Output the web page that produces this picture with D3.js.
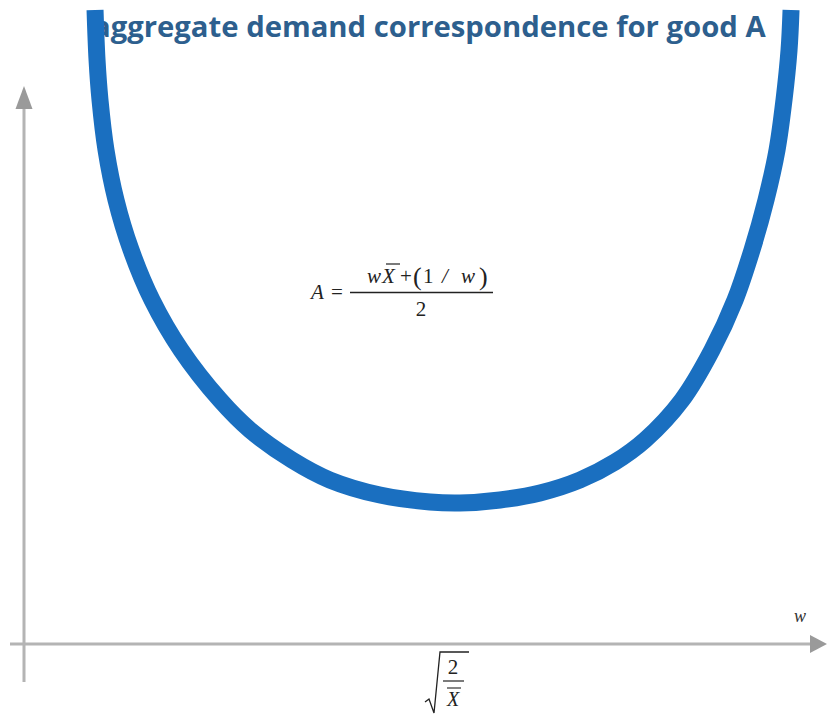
<!DOCTYPE html>
<html>
<head>
<meta charset="utf-8">
<script src="https://cdn.jsdelivr.net/npm/d3@7"></script>
<style>
  html, body { margin: 0; padding: 0; background: #fff; }
  svg { display: block; }
</style>
</head>
<body>
<svg id="chart" width="828" height="717"></svg>
<script>
// Aggregate demand correspondence for good A, sampled along the curve
const wValues = [0.888, 0.913, 0.950, 1.025, 1.150, 1.338, 1.600, 1.963, 2.450, 2.825, 3.350, 3.825,
                 4.450, 5.075, 5.450, 5.950, 6.450, 6.950, 7.388, 7.763, 8.225, 8.600, 8.888,
                 9.100, 9.275, 9.413, 9.500, 9.563, 9.588];
const aValues = [10.567, 9.733, 9.067, 8.233, 7.400, 6.567, 5.733, 4.900, 4.067, 3.567, 3.067, 2.733,
                 2.483, 2.367, 2.350, 2.400, 2.517, 2.733, 3.033, 3.400, 4.067, 4.900, 5.733,
                 6.567, 7.400, 8.233, 9.067, 9.900, 10.567];
const titleText = "aggregate demand correspondence for good A";
const xAxisLabel = "w";

const svg = d3.select("#chart");
const x = d3.scaleLinear().domain([0, 10]).range([24, 824]);
const y = d3.scaleLinear().domain([0, 10]).range([644, 44]);

const axisColor = "#b4b4b4";
const arrowColor = "#9a9a9a";

// axes with arrow heads
svg.append("line").attr("x1", 24).attr("x2", 24).attr("y1", 682).attr("y2", 100)
  .attr("stroke", axisColor).attr("stroke-width", 3);
svg.append("line").attr("x1", 10).attr("x2", 815).attr("y1", y(0)).attr("y2", y(0))
  .attr("stroke", axisColor).attr("stroke-width", 3);
svg.append("path").attr("d", "M24,86 L32.5,109 L15.5,109 Z").attr("fill", arrowColor);
svg.append("path").attr("d", `M827,${y(0)} L810,${y(0) - 9} L810,${y(0) + 9} Z`).attr("fill", arrowColor);

// title (sits under the curve)
const title = svg.append("text")
  .attr("x", 93).attr("y", 37)
  .attr("font-family", "'Open Sans', sans-serif")
  .attr("font-weight", "bold")
  .attr("font-size", 24)
  .attr("fill", "#2d5f8e")
  .text(titleText);
const tw = title.node().getComputedTextLength();
title.attr("font-size", 24 * 673 / tw);

// the curve
const pts = wValues.map((w, i) => [w, aValues[i]]);
const line = d3.line().x(d => x(d[0])).y(d => y(d[1])).curve(d3.curveCatmullRom.alpha(0.5));
svg.append("path").datum(pts).attr("d", line)
  .attr("fill", "none").attr("stroke", "#1a6fc0").attr("stroke-width", 17)
  .attr("stroke-linecap", "butt");

// formula  A = (wX̄ + (1/w)) / 2
const serif = "'Liberation Serif', 'Times New Roman', serif";
const ink = "#222";
const f = svg.append("g").attr("font-family", serif).attr("fill", ink);
const fs = 21;
f.append("text").attr("x", 311).attr("y", 299).attr("font-size", fs).attr("font-style", "italic").text("A");
f.append("text").attr("x", 331).attr("y", 299).attr("font-size", fs).text("=");
f.append("line").attr("x1", 350).attr("x2", 493).attr("y1", 292.5).attr("y2", 292.5).attr("stroke", ink).attr("stroke-width", 1.3);
f.append("text").attr("x", 367).attr("y", 283).attr("font-size", fs).attr("font-style", "italic").text("w");
f.append("text").attr("x", 382).attr("y", 283).attr("font-size", fs).attr("font-style", "italic").text("X");
f.append("line").attr("x1", 386).attr("x2", 400).attr("y1", 264).attr("y2", 264).attr("stroke", ink).attr("stroke-width", 1.2);
f.append("text").attr("x", 400).attr("y", 283).attr("font-size", fs).text("+");
f.append("text").attr("x", 413).attr("y", 285).attr("font-size", 26).text("(");
f.append("text").attr("x", 423).attr("y", 283).attr("font-size", fs).text("1");
f.append("text").attr("x", 442).attr("y", 283).attr("font-size", fs).attr("font-style", "italic").text("/");
f.append("text").attr("x", 461).attr("y", 283).attr("font-size", fs).attr("font-style", "italic").text("w");
f.append("text").attr("x", 479).attr("y", 285).attr("font-size", 26).text(")");
f.append("text").attr("x", 421).attr("y", 316).attr("font-size", fs).attr("text-anchor", "middle").text("2");

// axis label w
svg.append("text").attr("x", 794).attr("y", 622).attr("font-family", serif)
  .attr("font-style", "italic").attr("font-size", 18).attr("fill", "#333").text(xAxisLabel);

// tick label  sqrt(2 / X̄) at the minimum
const s = svg.append("g").attr("font-family", serif).attr("fill", ink);
s.append("path").attr("d", "M425,702 L429,699 L434,713 L440,652 L469,652")
  .attr("fill", "none").attr("stroke", ink).attr("stroke-width", 1.3);
s.append("text").attr("x", 453).attr("y", 674).attr("font-size", 21).attr("text-anchor", "middle").text("2");
s.append("line").attr("x1", 443).attr("x2", 464).attr("y1", 681).attr("y2", 681).attr("stroke", ink).attr("stroke-width", 1.2);
s.append("text").attr("x", 453).attr("y", 706).attr("font-size", 20).attr("font-style", "italic").attr("text-anchor", "middle").text("X");
s.append("line").attr("x1", 447).attr("x2", 461).attr("y1", 688).attr("y2", 688).attr("stroke", ink).attr("stroke-width", 1.1);
</script>
</body>
</html>
